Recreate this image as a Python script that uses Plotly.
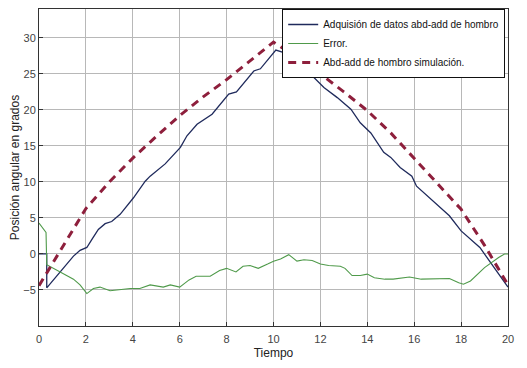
import plotly.graph_objects as go

# Adquisición de datos (measured)
t_adq = [0, 0.33, 0.33, 0.68, 1.04, 1.47, 1.75, 2.04, 2.25, 2.53, 2.82, 3.1, 3.46, 4.03, 4.53,
         4.74, 5.38, 6.03, 6.31, 6.74, 7.38, 7.74, 8.09, 8.42, 8.8, 9.16, 9.44, 10.1, 10.58, 10.8,
         11.15, 11.5, 12.15, 12.72, 13.3, 13.7, 14.15, 14.7, 15.0, 15.4, 15.9, 16.1, 17.5, 18.0,
         18.8, 20]
v_adq = [0, 0, -4.7, -3.3, -1.9, -0.3, 0.5, 0.9, 2.0, 3.4, 4.2, 4.5, 5.5, 7.8, 10.1,
         10.8, 12.5, 14.8, 16.4, 18.0, 19.4, 20.8, 22.2, 22.5, 24.0, 25.4, 25.7, 28.3, 27.8, 27.7,
         25.7, 25.2, 23.1, 21.7, 20.1, 18.2, 16.8, 14.1, 13.4, 12.0, 10.8, 9.4, 5.3, 3.2,
         0.9, -4.6]

# Error
t_err = [0, 0.3, 0.33, 0.5, 0.97, 1.47, 1.75, 2.04, 2.32, 2.6, 3.03, 3.46, 3.89, 4.3, 4.74,
         5.3, 5.6, 6.0, 6.4, 6.7, 7.3, 7.7, 8.0, 8.4, 8.7, 9.0, 9.35, 9.75, 10.0, 10.3, 10.65,
         11.0, 11.3, 11.65, 12.0, 12.35, 12.85, 13.05, 13.35, 13.7, 14.0, 14.3, 14.75, 15.1,
         15.8, 16.3, 16.8, 17.5, 17.9, 18.1, 18.4, 19.0, 19.6, 19.85, 20]
v_err = [4.3, 3.0, -1.5, -1.8, -2.6, -3.5, -4.3, -5.5, -4.8, -4.6, -5.1, -4.9, -4.8, -4.8, -4.3,
         -4.6, -4.3, -4.6, -3.6, -3.1, -3.1, -2.3, -2.0, -2.5, -1.7, -1.6, -2.0, -1.4, -1.0, -0.7, -0.1,
         -1.0, -0.8, -0.9, -1.4, -1.6, -1.7, -2.0, -3.0, -3.0, -2.8, -3.3, -3.5, -3.5,
         -3.2, -3.5, -3.5, -3.4, -4.0, -4.2, -3.75, -1.9, -0.5, 0.0, 0.0]

# Simulación
t_sim = [0, 1, 2, 3, 4, 5, 6, 7, 8, 9, 10, 11, 12, 13, 14, 15, 16, 17, 18, 19, 20]
v_sim = [-4.4, 0.9, 6.3, 10.0, 13.3, 16.3, 19.2, 21.8, 24.2, 26.8, 29.4, 27.3, 25.0, 22.5,
         19.9, 16.8, 13.3, 9.8, 6.2, 1.2, -4.3]

x_ticks = [0, 2, 4, 6, 8, 10, 12, 14, 16, 18, 20]
y_ticks = [-5, 0, 5, 10, 15, 20, 25, 30]

fig = go.Figure()
fig.add_trace(go.Scatter(x=t_adq, y=v_adq, mode="lines", name="Adquisión de datos abd-add de hombro",
                         line=dict(color="#1f2a5c", width=1.3)))
fig.add_trace(go.Scatter(x=t_err, y=v_err, mode="lines", name="Error.",
                         line=dict(color="#4f9a4a", width=1.1)))
fig.add_trace(go.Scatter(x=t_sim, y=v_sim, mode="lines", name="Abd-add de hombro simulación.",
                         line=dict(color="#8e1f3c", width=3, dash="8px,6px")))

axis_common = dict(showgrid=True, gridcolor="#b8b8b8", gridwidth=1, zeroline=False,
                   showline=True, linecolor="#333333", linewidth=1, mirror=True,
                   ticks="inside", ticklen=4, tickcolor="#333333", automargin=False,
                   tickfont=dict(family="Liberation Sans, Arial, sans-serif", size=11, color="#444444"))

fig.update_layout(
    width=527, height=368,
    margin=dict(l=31, r=27, t=1, b=50),
    paper_bgcolor="white", plot_bgcolor="white",
    showlegend=True,
    legend=dict(x=0.994, y=1.0, xanchor="right", yanchor="top",
                bgcolor="white", bordercolor="#111111", borderwidth=1,
                font=dict(family="Liberation Sans, Arial, sans-serif", size=10, color="#111111"),
                tracegroupgap=0, itemwidth=30),
    xaxis=dict(range=[0, 20], tickvals=x_ticks, ticklabelstandoff=3,
               title=dict(text="Tiempo", standoff=4,
                          font=dict(family="Liberation Sans, Arial, sans-serif", size=12, color="#222222")),
               **axis_common),
    yaxis=dict(range=[-10, 34], tickvals=y_ticks,
               title=dict(text="Posición angular en grados", standoff=6,
                          font=dict(family="Liberation Sans, Arial, sans-serif", size=12, color="#222222")),
               **axis_common),
)

fig.write_html("out.html")
